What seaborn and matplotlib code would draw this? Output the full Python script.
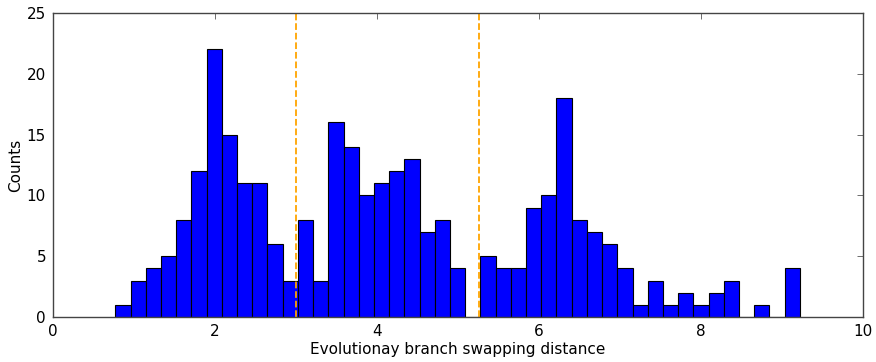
import numpy as np
import pandas as pd
import matplotlib
matplotlib.use("Agg")
import matplotlib.pyplot as plt
import seaborn as sns

# Histogram bin counts of branch swapping distances (45 equal-width bins)
bin_start = 0.77
bin_stop = 9.22
counts = [1, 3, 4, 5, 8, 12, 22, 15, 11, 11, 6, 3, 8, 3, 16, 14, 10, 11, 12, 13,
          7, 8, 4, 0, 5, 4, 4, 9, 10, 18, 8, 7, 6, 4, 1, 3, 1, 2, 1, 2,
          3, 0, 1, 0, 4]
# Cluster thresholds marked with dashed lines
thresholds = [3.0, 5.26]

edges = np.linspace(bin_start, bin_stop, len(counts) + 1)
centers = (edges[:-1] + edges[1:]) / 2
df = pd.DataFrame({"distance": centers, "count": counts})

sns.set_style("white")
plt.rcParams["font.family"] = ["DejaVu Sans"]
plt.rcParams["font.size"] = 11
plt.rcParams["text.color"] = "black"
plt.rcParams["axes.labelcolor"] = "black"
plt.rcParams["xtick.color"] = "black"
plt.rcParams["ytick.color"] = "black"

fig = plt.figure(figsize=(8.76, 3.62), dpi=100)
ax = fig.add_axes([53 / 876, 1 - 317 / 362, 810 / 876, 304 / 362])

sns.histplot(data=df, x="distance", weights="count", bins=edges.tolist(),
             color="blue", edgecolor="black", linewidth=0.8, alpha=1.0, ax=ax)

for t in thresholds:
    ax.axvline(t, color="orange", linestyle="--", linewidth=1.3)

ax.set_xlim(0, 10)
ax.set_ylim(0, 25)
ax.set_xticks([0, 2, 4, 6, 8, 10])
ax.set_yticks([0, 5, 10, 15, 20, 25])
ax.set_xlabel("Evolutionay branch swapping distance", fontsize=11, labelpad=2)
ax.set_ylabel("Counts", fontsize=11, labelpad=3)
ax.tick_params(direction="in", top=True, right=True, length=4, width=0.6,
               labelsize=11, pad=5, color="#555555", labelcolor="black")
for s in ax.spines.values():
    s.set_color("#444444")
    s.set_linewidth(1.0)

fig.savefig("out.png", dpi=100)
